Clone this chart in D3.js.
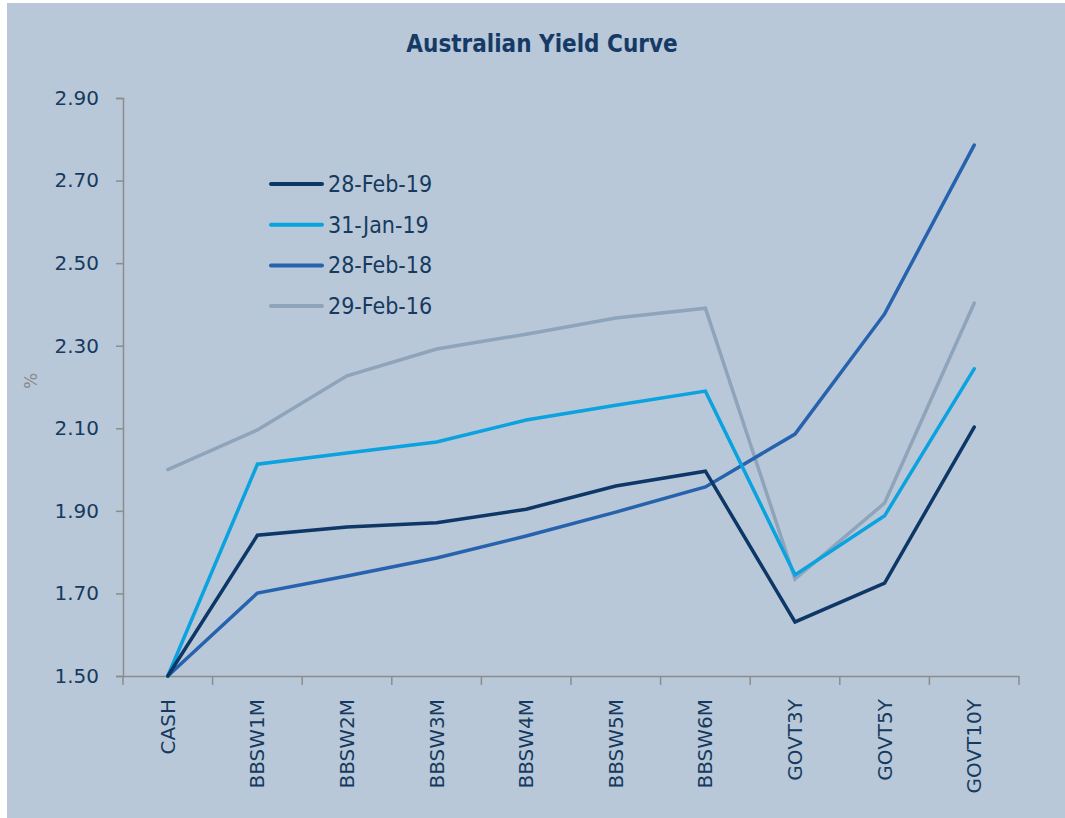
<!DOCTYPE html>
<html>
<head>
<meta charset="utf-8">
<script src="https://cdn.jsdelivr.net/npm/d3@7"></script>
<style>
  html, body { margin: 0; padding: 0; background: #ffffff; }
  svg { display: block; }
</style>
</head>
<body>
<svg id="chart" width="1065" height="818"></svg>
<script>
const categories = ["CASH","BBSW1M","BBSW2M","BBSW3M","BBSW4M","BBSW5M","BBSW6M","GOVT3Y","GOVT5Y","GOVT10Y"];
const seriesNames = ["28-Feb-19","31-Jan-19","28-Feb-18","29-Feb-16"];
const feb19 = [1.50,1.841,1.861,1.871,1.904,1.960,1.996,1.631,1.725,2.103];
const jan19 = [1.50,2.013,2.040,2.067,2.120,2.156,2.190,1.745,1.888,2.244];
const feb18 = [1.50,1.701,1.742,1.786,1.839,1.897,1.958,2.086,2.377,2.786];
const feb16 = [2.00,2.096,2.227,2.292,2.328,2.367,2.391,1.735,1.919,2.403];
const yTicks = [1.50,1.70,1.90,2.10,2.30,2.50,2.70,2.90];
const colors = ["#0d3766","#0aa2df","#2662ae","#8da4bb"];

(function(){
const series = [feb19, jan19, feb18, feb16];

const svg = d3.select("#chart");
svg.append("rect").attr("x",7).attr("y",3).attr("width",1058).attr("height",815).attr("fill","#b8c8d8");

const mLeft = 123, mRight = 1019, mTop = 98, mBottom = 676;
const x = d3.scaleBand().domain(categories).range([mLeft, mRight]);
const y = d3.scaleLinear().domain([1.5, 2.9]).range([mBottom, mTop]);

// title
svg.append("text").attr("x",542).attr("y",52).attr("text-anchor","middle")
  .attr("font-family","'DejaVu Sans Condensed',sans-serif")
  .attr("font-weight","bold").attr("font-size",24).attr("fill","#163a66")
  .text("Australian Yield Curve");

// y axis
const yAxis = svg.append("g").attr("transform",`translate(${mLeft},0)`)
  .call(d3.axisLeft(y).tickValues(yTicks).tickFormat(d3.format(".2f")).tickSize(7).tickPadding(17));
yAxis.select(".domain").attr("stroke","#8c8c8c").attr("stroke-width",1.5);
yAxis.selectAll(".tick line").attr("stroke","#8c8c8c").attr("stroke-width",1.5);
yAxis.selectAll(".tick text").attr("font-family","'DejaVu Sans',Verdana,sans-serif")
  .attr("font-size",20).attr("fill","#163a5f");

// x axis
const xAxis = svg.append("g").attr("transform",`translate(0,${mBottom})`)
  .call(d3.axisBottom(x).tickSize(0).tickFormat(""));
xAxis.select(".domain").attr("stroke","#8c8c8c").attr("stroke-width",1.5);
xAxis.selectAll(".tick").remove();
const bounds = categories.map(c => x(c)).concat([mRight]);
svg.append("g").selectAll("line").data(bounds).join("line")
  .attr("x1",d=>d).attr("x2",d=>d).attr("y1",mBottom).attr("y2",mBottom+9)
  .attr("stroke","#8c8c8c").attr("stroke-width",1.5);
svg.append("g").selectAll("text").data(categories).join("text")
  .attr("transform",d=>`translate(${x(d)+x.bandwidth()/2+7},${mBottom+23}) rotate(-90)`)
  .attr("text-anchor","end")
  .attr("font-family","'DejaVu Sans',Verdana,sans-serif").attr("font-size",20)
  .attr("fill","#163a5f").text(d=>d);

// y label
svg.append("text").attr("transform","translate(37,381) rotate(-90)").attr("text-anchor","middle")
  .attr("font-family","'DejaVu Sans',Verdana,sans-serif").attr("font-size",17).attr("fill","#8a8a8a")
  .text("%");

// lines
const line = d3.line().x((d,i)=>x(categories[i])+x.bandwidth()/2).y(d=>y(d));
[3,2,1,0].forEach(k=>{
  svg.append("path").datum(series[k]).attr("d",line).attr("fill","none")
    .attr("stroke",colors[k]).attr("stroke-width",3.5)
    .attr("stroke-linejoin","miter").attr("stroke-linecap","round");
});

// legend
const lg = svg.append("g");
seriesNames.forEach((n,i)=>{
  const yy = 184 + i*40.7;
  lg.append("line").attr("x1",271).attr("x2",322).attr("y1",yy).attr("y2",yy)
    .attr("stroke",colors[i]).attr("stroke-width",4).attr("stroke-linecap","round");
  lg.append("text").attr("x",328).attr("y",yy+8)
    .attr("font-family","'DejaVu Sans Condensed',sans-serif")
    .attr("font-size",23).attr("fill","#163a5f").text(n);
});
})();
</script>
</body>
</html>
